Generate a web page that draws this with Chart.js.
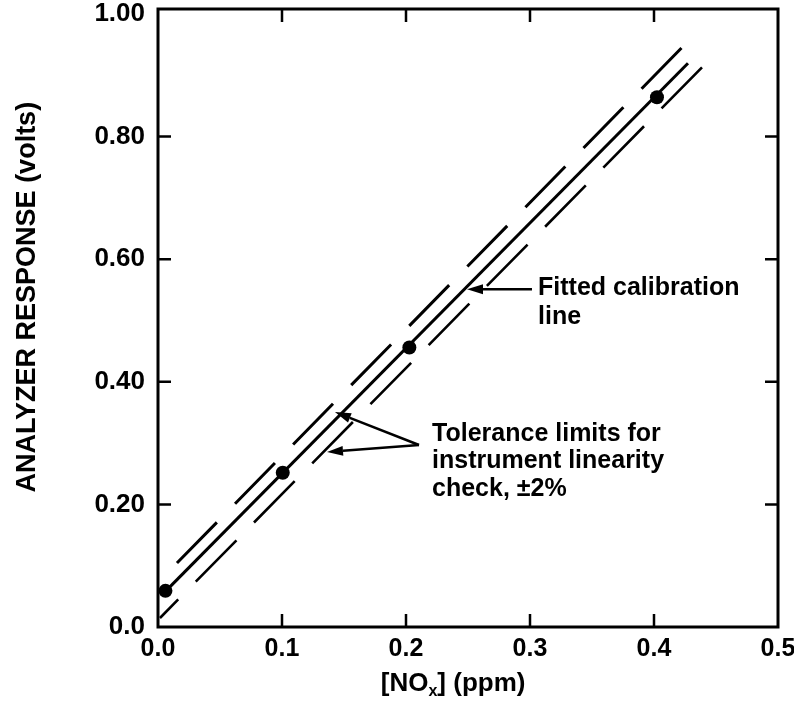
<!DOCTYPE html>
<html><head><meta charset="utf-8">
<script src="https://cdn.jsdelivr.net/npm/chart.js@4/dist/chart.umd.min.js"></script>
<style>html,body{margin:0;padding:0;background:#fff;}canvas{display:block;}</style>
</head><body>
<canvas id="c" width="794" height="703"></canvas>
<script>
// ---- data ----
const measuredX = [0.006, 0.1006, 0.2027, 0.4024];
const measuredY = [0.059, 0.2516, 0.456, 0.8641];
const fitX = [0.003, 0.4274];
const fitY = [0.052, 0.9196];
const upperX = [0.0153, 0.4226];
const upperY = [0.1043, 0.9454];
const lowerX = [0.0016, 0.4387];
const lowerY = [0.0147, 0.9128];
const xTickValues = [0, 0.1, 0.2, 0.3, 0.4, 0.5];
const xTickLabels = ['0.0', '0.1', '0.2', '0.3', '0.4', '0.5'];
const yTickValues = [0, 0.2, 0.4, 0.6, 0.8, 1.0];
const yTickLabels = ['0.0', '0.20', '0.40', '0.60', '0.80', '1.00'];
const xTitleParts = ['[NO', 'x', '] (ppm)'];
const yTitle = 'ANALYZER RESPONSE (volts)';
const fittedText = ['Fitted calibration', 'line'];
const toleranceText = ['Tolerance limits for', 'instrument linearity', 'check, \u00B12%'];

// ---- annotation placement (data coordinates) ----
const notes = [
  { lines: fittedText, x: 0.3065, y: 0.5527, lineStep: 0.047,
    arrows: [{ from: [0.3016, 0.551], to: [0.2492, 0.551] }] },
  { lines: toleranceText, x: 0.221, y: 0.3147, lineStep: 0.0445,
    arrows: [{ from: [0.2105, 0.2968], to: [0.1427, 0.3506] },
             { from: [0.2105, 0.2968], to: [0.1363, 0.2853] }] }
];
const xTitlePos = { x: 0.238, y: -0.093 };
const yTitlePos = { px: 28, y: 0.538 };

const FONT = '"Liberation Sans", Arial, Helvetica, sans-serif';

const pts = (xs, ys) => xs.map((x, i) => ({ x: x, y: ys[i] }));

function arrow(ctx, x1, y1, x2, y2) {
  const ang = Math.atan2(y2 - y1, x2 - x1);
  const L = 16, W = 5;
  const bx = x2 - L * Math.cos(ang), by = y2 - L * Math.sin(ang);
  ctx.beginPath();
  ctx.moveTo(x1, y1);
  ctx.lineTo(bx, by);
  ctx.stroke();
  ctx.beginPath();
  ctx.moveTo(x2, y2);
  ctx.lineTo(bx + W * Math.sin(ang), by - W * Math.cos(ang));
  ctx.lineTo(bx - W * Math.sin(ang), by + W * Math.cos(ang));
  ctx.closePath();
  ctx.fill();
}

const decor = {
  id: 'decor',
  afterDatasetsDraw(chart) {
    const { ctx, chartArea: a, scales } = chart;
    const xs = scales.x, ys = scales.y;
    ctx.save();
    ctx.strokeStyle = '#000';
    ctx.fillStyle = '#000';
    // frame
    ctx.lineWidth = 3;
    ctx.strokeRect(a.left, a.top, a.right - a.left, a.bottom - a.top);
    // inward ticks
    ctx.lineWidth = 2.5;
    const tl = 13;
    xTickValues.forEach(v => {
      if (v <= 0 || v >= 0.5) return;
      const px = xs.getPixelForValue(v);
      ctx.beginPath();
      ctx.moveTo(px, a.bottom); ctx.lineTo(px, a.bottom - tl);
      ctx.moveTo(px, a.top); ctx.lineTo(px, a.top + tl);
      ctx.stroke();
    });
    yTickValues.forEach(v => {
      if (v <= 0 || v >= 1.0) return;
      const py = ys.getPixelForValue(v);
      ctx.beginPath();
      ctx.moveTo(a.left, py); ctx.lineTo(a.left + tl, py);
      ctx.moveTo(a.right, py); ctx.lineTo(a.right - tl, py);
      ctx.stroke();
    });
    // annotations
    ctx.font = 'bold 25px ' + FONT;
    ctx.textBaseline = 'middle';
    ctx.textAlign = 'left';
    notes.forEach(n => {
      n.lines.forEach((t, i) => {
        ctx.fillText(t, xs.getPixelForValue(n.x), ys.getPixelForValue(n.y - i * n.lineStep));
      });
      ctx.lineWidth = 2.5;
      n.arrows.forEach(ar => {
        arrow(ctx, xs.getPixelForValue(ar.from[0]), ys.getPixelForValue(ar.from[1]),
                   xs.getPixelForValue(ar.to[0]), ys.getPixelForValue(ar.to[1]));
      });
    });
    // x title with subscript
    const big = 'bold 26px ' + FONT, small = 'bold 16px ' + FONT;
    ctx.font = big; const w0 = ctx.measureText(xTitleParts[0]).width, w2 = ctx.measureText(xTitleParts[2]).width;
    ctx.font = small; const w1 = ctx.measureText(xTitleParts[1]).width;
    const cx = xs.getPixelForValue(xTitlePos.x), cy = ys.getPixelForValue(xTitlePos.y);
    let sx = cx - (w0 + w1 + w2) / 2;
    ctx.font = big; ctx.fillText(xTitleParts[0], sx, cy);
    ctx.font = small; ctx.fillText(xTitleParts[1], sx + w0, cy + 8);
    ctx.font = big; ctx.fillText(xTitleParts[2], sx + w0 + w1, cy);
    // y title
    ctx.save();
    ctx.translate(yTitlePos.px, ys.getPixelForValue(yTitlePos.y));
    ctx.rotate(-Math.PI / 2);
    ctx.textAlign = 'center';
    ctx.font = 'bold 27px ' + FONT;
    ctx.fillText(yTitle, 0, 0);
    ctx.restore();
    ctx.restore();
  }
};

new Chart(document.getElementById('c'), {
  type: 'scatter',
  data: {
    datasets: [
      { label: 'Calibration points', data: pts(measuredX, measuredY), showLine: false,
        pointRadius: 7, pointBackgroundColor: '#000', pointBorderColor: '#000', pointBorderWidth: 0 },
      { label: 'Fitted calibration line', data: pts(fitX, fitY), showLine: true,
        borderColor: '#000', borderWidth: 3, pointRadius: 0, fill: false },
      { label: 'Upper tolerance', data: pts(upperX, upperY), showLine: true,
        borderColor: '#000', borderWidth: 3, borderDash: [57, 26], borderCapStyle: 'butt', pointRadius: 0 },
      { label: 'Lower tolerance', data: pts(lowerX, lowerY), showLine: true,
        borderColor: '#000', borderWidth: 2.6, borderDash: [58, 25], borderDashOffset: 32, borderCapStyle: 'butt', pointRadius: 0 }
    ]
  },
  options: {
    responsive: false,
    animation: false,
    devicePixelRatio: 1,
    layout: { padding: { top: 9, right: 16, bottom: 0, left: 0 } },
    plugins: { legend: { display: false }, tooltip: { enabled: false }, title: { display: false } },
    scales: {
      x: {
        type: 'linear', min: 0, max: 0.5,
        grid: { display: false, drawTicks: false },
        border: { display: false },
        afterFit: s => { s.height = 76; s.paddingLeft = 0; s.paddingRight = 0; },
        afterBuildTicks: s => { s.ticks = xTickValues.map(v => ({ value: v })); },
        ticks: { padding: 7, color: '#000', font: { family: FONT, size: 25, weight: 'bold' },
                 callback: (v, i) => xTickLabels[i] }
      },
      y: {
        type: 'linear', min: 0, max: 1.008,
        grid: { display: false, drawTicks: false },
        border: { display: false },
        afterFit: s => { s.width = 158; s.paddingTop = 0; s.paddingBottom = 0; },
        afterBuildTicks: s => { s.ticks = yTickValues.map(v => ({ value: v })); },
        ticks: { padding: 13, color: '#000', font: { family: FONT, size: 26, weight: 'bold' },
                 callback: (v, i) => yTickLabels[i] }
      }
    }
  },
  plugins: [decor]
});
</script>
</body></html>
